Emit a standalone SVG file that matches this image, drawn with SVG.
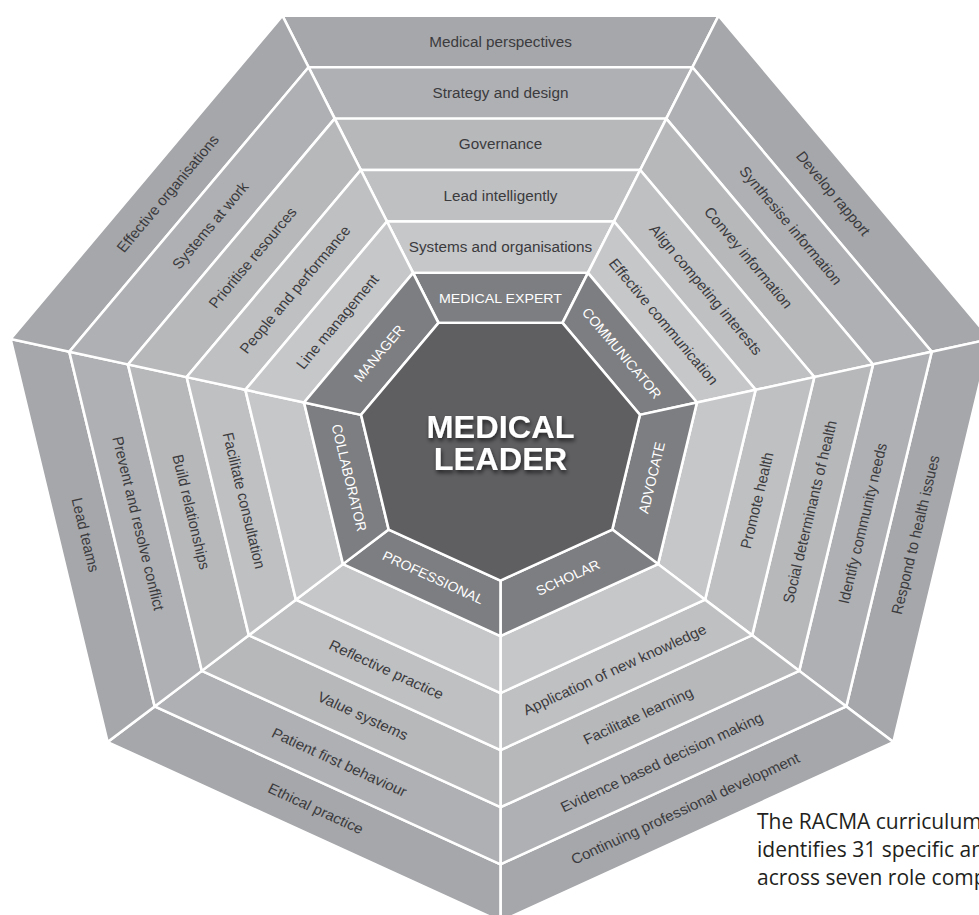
<svg xmlns="http://www.w3.org/2000/svg" width="979" height="915" viewBox="0 0 979 915">
  <style>
    .seg { stroke: #ffffff; stroke-width: 2.6; stroke-linejoin: miter; }
    .core { fill: #5f5f62; }
    .band { fill: #7d7e81; }
    .r1 { fill: #c6c7c9; }
    .r2 { fill: #bfc0c2; }
    .r3 { fill: #b7b8ba; }
    .r4 { fill: #afb0b3; }
    .r5 { fill: #a6a7aa; }
    .lbl { font-family: "Liberation Sans", Arial, Helvetica, sans-serif; font-size: 15.3px; fill: #3b3b3e; text-anchor: middle; }
    .role { font-family: "Liberation Sans", Arial, Helvetica, sans-serif; font-size: 14.2px; fill: #ffffff; text-anchor: middle; }
    .title { font-family: "Liberation Sans", Arial, Helvetica, sans-serif; font-size: 32.5px; font-weight: bold; fill: #ffffff; text-anchor: middle; }
    .caption { font-family: "Open Sans", "Liberation Sans", sans-serif; font-size: 21px; fill: #231f20; }
  </style>
  <defs>
    <!-- one sector of the heptagon, pointing up; the others are rotated copies -->
    <polygon id="band" points="-87.43,-181.55 87.43,-181.55 62.05,-128.84 -62.05,-128.84"/>
    <polygon id="ring1" points="-113.55,-235.78 113.55,-235.78 87.43,-181.55 -87.43,-181.55"/>
    <polygon id="ring2" points="-139.67,-290.02 139.67,-290.02 113.55,-235.78 -113.55,-235.78"/>
    <polygon id="ring3" points="-165.79,-344.26 165.79,-344.26 139.67,-290.02 -139.67,-290.02"/>
    <polygon id="ring4" points="-191.90,-398.50 191.90,-398.50 165.79,-344.26 -165.79,-344.26"/>
    <polygon id="ring5" points="-218.02,-452.74 218.02,-452.74 191.90,-398.50 -191.90,-398.50"/>
    <filter id="shadow" x="-20%" y="-30%" width="140%" height="170%">
      <feDropShadow dx="1" dy="3" stdDeviation="2" flood-color="#000000" flood-opacity="0.65"/>
    </filter>
  </defs>

  <g transform="translate(500.5 445) scale(1 0.948)">
    <!-- upper sectors: labels read left to right along the outer edge -->
    <g id="sector-medical-expert" class="seg">
      <use href="#ring5" class="r5"/><use href="#ring4" class="r4"/><use href="#ring3" class="r3"/>
      <use href="#ring2" class="r2"/><use href="#ring1" class="r1"/><use href="#band" class="band"/>
      <g stroke="none">
        <text class="role" y="-155.2" dy="0.35em">MEDICAL EXPERT</text>
        <text class="lbl" y="-208.67" dy="0.35em">Systems and organisations</text>
        <text class="lbl" y="-262.9" dy="0.35em">Lead intelligently</text>
        <text class="lbl" y="-317.14" dy="0.35em">Governance</text>
        <text class="lbl" y="-371.38" dy="0.35em">Strategy and design</text>
        <text class="lbl" y="-425.62" dy="0.35em">Medical perspectives</text>
      </g>
    </g>

    <g id="sector-communicator" class="seg" transform="rotate(51.4286)">
      <use href="#ring5" class="r5"/><use href="#ring4" class="r4"/><use href="#ring3" class="r3"/>
      <use href="#ring2" class="r2"/><use href="#ring1" class="r1"/><use href="#band" class="band"/>
      <g stroke="none">
        <text class="role" y="-155.2" dy="0.35em">COMMUNICATOR</text>
        <text class="lbl" y="-208.67" dy="0.35em">Effective communication</text>
        <text class="lbl" y="-262.9" dy="0.35em">Align competing interests</text>
        <text class="lbl" y="-317.14" dy="0.35em">Convey information</text>
        <text class="lbl" y="-371.38" dy="0.35em">Synthesise information</text>
        <text class="lbl" y="-425.62" dy="0.35em">Develop rapport</text>
      </g>
    </g>

    <!-- lower sectors: labels turned half a turn so they stay upright -->
    <g id="sector-advocate" class="seg" transform="rotate(102.857)">
      <use href="#ring5" class="r5"/><use href="#ring4" class="r4"/><use href="#ring3" class="r3"/>
      <use href="#ring2" class="r2"/><use href="#ring1" class="r1"/><use href="#band" class="band"/>
      <g stroke="none">
        <text class="role" y="-155.2" dy="0.35em" transform="rotate(180 0 -155.2)">ADVOCATE</text>
        <text class="lbl" y="-262.9" dy="0.35em" transform="rotate(180 0 -262.9)">Promote health</text>
        <text class="lbl" y="-317.14" dy="0.35em" transform="rotate(180 0 -317.14)">Social determinants of health</text>
        <text class="lbl" y="-371.38" dy="0.35em" transform="rotate(180 0 -371.38)">Identify community needs</text>
        <text class="lbl" y="-425.62" dy="0.35em" transform="rotate(180 0 -425.62)">Respond to health issues</text>
      </g>
    </g>

    <g id="sector-scholar" class="seg" transform="rotate(154.286)">
      <use href="#ring5" class="r5"/><use href="#ring4" class="r4"/><use href="#ring3" class="r3"/>
      <use href="#ring2" class="r2"/><use href="#ring1" class="r1"/><use href="#band" class="band"/>
      <g stroke="none">
        <text class="role" y="-155.2" dy="0.35em" transform="rotate(180 0 -155.2)">SCHOLAR</text>
        <text class="lbl" y="-262.9" dy="0.35em" transform="rotate(180 0 -262.9)">Application of new knowledge</text>
        <text class="lbl" y="-317.14" dy="0.35em" transform="rotate(180 0 -317.14)">Facilitate learning</text>
        <text class="lbl" y="-371.38" dy="0.35em" transform="rotate(180 0 -371.38)">Evidence based decision making</text>
        <text class="lbl" y="-425.62" dy="0.35em" transform="rotate(180 0 -425.62)">Continuing professional development</text>
      </g>
    </g>

    <g id="sector-professional" class="seg" transform="rotate(205.714)">
      <use href="#ring5" class="r5"/><use href="#ring4" class="r4"/><use href="#ring3" class="r3"/>
      <use href="#ring2" class="r2"/><use href="#ring1" class="r1"/><use href="#band" class="band"/>
      <g stroke="none">
        <text class="role" y="-155.2" dy="0.35em" transform="rotate(180 0 -155.2)">PROFESSIONAL</text>
        <text class="lbl" y="-262.9" dy="0.35em" transform="rotate(180 0 -262.9)">Reflective practice</text>
        <text class="lbl" y="-317.14" dy="0.35em" transform="rotate(180 0 -317.14)">Value systems</text>
        <text class="lbl" y="-371.38" dy="0.35em" transform="rotate(180 0 -371.38)">Patient first behaviour</text>
        <text class="lbl" y="-425.62" dy="0.35em" transform="rotate(180 0 -425.62)">Ethical practice</text>
      </g>
    </g>

    <g id="sector-collaborator" class="seg" transform="rotate(257.143)">
      <use href="#ring5" class="r5"/><use href="#ring4" class="r4"/><use href="#ring3" class="r3"/>
      <use href="#ring2" class="r2"/><use href="#ring1" class="r1"/><use href="#band" class="band"/>
      <g stroke="none">
        <text class="role" y="-155.2" dy="0.35em" transform="rotate(180 0 -155.2)">COLLABORATOR</text>
        <text class="lbl" y="-262.9" dy="0.35em" transform="rotate(180 0 -262.9)">Facilitate consultation</text>
        <text class="lbl" y="-317.14" dy="0.35em" transform="rotate(180 0 -317.14)">Build relationships</text>
        <text class="lbl" y="-371.38" dy="0.35em" transform="rotate(180 0 -371.38)">Prevent and resolve conflict</text>
        <text class="lbl" y="-425.62" dy="0.35em" transform="rotate(180 0 -425.62)">Lead teams</text>
      </g>
    </g>

    <g id="sector-manager" class="seg" transform="rotate(308.571)">
      <use href="#ring5" class="r5"/><use href="#ring4" class="r4"/><use href="#ring3" class="r3"/>
      <use href="#ring2" class="r2"/><use href="#ring1" class="r1"/><use href="#band" class="band"/>
      <g stroke="none">
        <text class="role" y="-155.2" dy="0.35em">MANAGER</text>
        <text class="lbl" y="-208.67" dy="0.35em">Line management</text>
        <text class="lbl" y="-262.9" dy="0.35em">People and performance</text>
        <text class="lbl" y="-317.14" dy="0.35em">Prioritise resources</text>
        <text class="lbl" y="-371.38" dy="0.35em">Systems at work</text>
        <text class="lbl" y="-425.62" dy="0.35em">Effective organisations</text>
      </g>
    </g>

    <!-- central heptagon -->
    <g id="medical-leader">
      <polygon class="core seg" points="-62.05,-128.84 62.05,-128.84 139.41,-31.82 111.80,89.16 0,143 -111.80,89.16 -139.41,-31.82"/>
      <text class="title" filter="url(#shadow)"><tspan x="0" y="-6.9">MEDICAL</tspan><tspan x="0" y="26.4">LEADER</tspan></text>
    </g>
  </g>

  <g id="caption">
    <text class="caption" x="757" y="829">The RACMA curriculum</text>
    <text class="caption" x="757" y="857">identifies 31 specific an</text>
    <text class="caption" x="757" y="885">across seven role comp</text>
  </g>
</svg>
